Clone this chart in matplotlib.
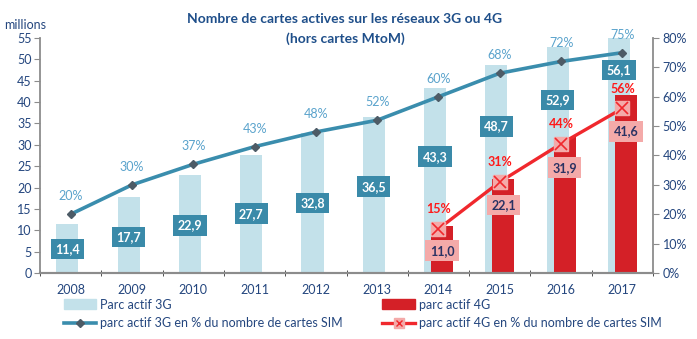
import numpy as np
import matplotlib
matplotlib.use('Agg')
import matplotlib.pyplot as plt
from matplotlib.lines import Line2D
from matplotlib.patches import Patch

plt.rcParams['font.family'] = ['Lato', 'DejaVu Sans']

years = ['2008', '2009', '2010', '2011', '2012', '2013', '2014', '2015', '2016', '2017']
parc_3g = [11.4, 17.7, 22.9, 27.7, 32.8, 36.5, 43.3, 48.7, 52.9, 56.1]
pct_3g = [20, 30, 37, 43, 48, 52, 60, 68, 72, 75]
years_4g = ['2014', '2015', '2016', '2017']
parc_4g = [11.0, 22.1, 31.9, 41.6]
pct_4g = [15, 31, 44, 56]

# where the value boxes sit (left axis units), placed by hand in the original
box_y_3g = [5.6, 8.4, 11.1, 13.9, 16.4, 20.2, 27.2, 34.3, 40.5, 47.5]
box_y_4g = [5.2, 15.9, 24.6, 33.1]

c_bar3 = '#c3e1ea'
c_line3 = '#3a8dad'
c_box3 = '#3a8aa9'
c_bar4 = '#d42027'
c_line4 = '#f0282d'
c_box4 = '#f4aaa9'
c_navy = '#24467e'
c_grey = '#8c8c8c'

fig = plt.figure(figsize=(6.97, 3.39), dpi=100)
ax = fig.add_axes([0.0574, 0.1947, 0.8795, 0.6933])
ax2 = ax.twinx()

x = np.arange(len(years))
x4 = np.array([years.index(y) for y in years_4g])
w = 0.36

ax.bar(x - 0.055, parc_3g, w, color=c_bar3, zorder=1)
ax.bar(x4 + 0.06, parc_4g, w, color=c_bar4, zorder=2)

for xi, v, yb in zip(x, parc_3g, box_y_3g):
    ax.text(xi - 0.055, yb, f'{v:.1f}'.replace('.', ','), ha='center', va='center',
            color='white', fontsize=9, fontweight='bold', zorder=5,
            bbox=dict(boxstyle='square,pad=0.35', fc=c_box3, ec='none'))
for xi, v, yb in zip(x4, parc_4g, box_y_4g):
    ax.text(xi + 0.06, yb, f'{v:.1f}'.replace('.', ','), ha='center', va='center',
            color='#2a3263', fontsize=9, fontweight='bold', zorder=5,
            bbox=dict(boxstyle='square,pad=0.35', fc=c_box4, ec='none'))

ax.set_xlim(-0.5, len(years) - 0.5)
ax.set_ylim(0, 55)
ax.set_yticks(np.arange(0, 56, 5))
ax.set_xticks(x)
ax.set_xticklabels(years)
ax.set_xticks(np.arange(-0.5, len(years), 1), minor=True)
ax.tick_params(axis='x', which='major', length=0, pad=8, colors=c_navy, labelsize=9)
ax.tick_params(axis='x', which='minor', length=4, direction='inout', color='#333333')
ax.tick_params(axis='y', length=4, direction='out', colors=c_navy, labelsize=9, pad=2)
ax.tick_params(axis='y', color=c_grey)

# percentage lines on the right axis
ax2.plot(x, pct_3g, color=c_line3, lw=2.6, zorder=3)
ax2.plot(x, pct_3g, 'D', color='#4d5b66', ms=4.5, zorder=4)
ax2.plot(x4, pct_4g, color=c_line4, lw=2.4, zorder=3)
ax2.plot(x4, pct_4g, 's', mfc=c_box4, mec=c_box4, ms=10, zorder=4)
ax2.plot(x4, pct_4g, 'x', color=c_line4, ms=8, mew=1.2, zorder=5)

for xi, p in zip(x, pct_3g):
    ax2.annotate(f'{p}%', (xi, p), xytext=(0, 13), textcoords='offset points',
                 ha='center', va='center', color='#5aa3cc', fontsize=9)
for xi, p in zip(x4, pct_4g):
    ax2.annotate(f'{p}%', (xi, p), xytext=(0, 14), textcoords='offset points',
                 ha='center', va='center', color='#ff1a1a', fontsize=9, fontweight='bold')

ax2.set_ylim(0, 80)
ax2.set_yticks(np.arange(0, 81, 10))
ax2.set_yticklabels([f'{t}%' for t in range(0, 81, 10)])
ax2.tick_params(axis='y', length=4, direction='out', colors=c_navy, labelsize=9, pad=3)
ax2.tick_params(axis='y', color=c_grey)

for a in (ax, ax2):
    a.spines['top'].set_visible(False)
    a.spines['left'].set_color(c_grey)
    a.spines['right'].set_color(c_grey)
    a.spines['bottom'].set_color(c_grey)
    a.spines['left'].set_linewidth(1.3)
    a.spines['right'].set_linewidth(1.3)
    a.spines['bottom'].set_linewidth(1.5)
ax2.spines['left'].set_visible(False)
ax.spines['right'].set_visible(False)

fig.text(0.495, 0.945, 'Nombre de cartes actives sur les réseaux 3G ou 4G',
         ha='center', va='center', color='#1f4f8a', fontsize=10, fontweight='bold')
fig.text(0.495, 0.885, '(hors cartes MtoM)',
         ha='center', va='center', color='#1f4f8a', fontsize=10, fontweight='bold')
fig.text(0.036, 0.925, 'millions', ha='center', va='center', color=c_navy, fontsize=9)

handles = [
    Patch(color=c_bar3),
    (Line2D([], [], color=c_line3, lw=2.6),
     Line2D([], [], marker='D', ls='none', color='#4d5b66', ms=4)),
    Patch(color=c_bar4),
    (Line2D([], [], color=c_line4, lw=2.4),
     Line2D([], [], marker='s', ls='none', mfc=c_box4, mec=c_box4, ms=7),
     Line2D([], [], marker='x', ls='none', color=c_line4, ms=5, mew=1)),
]
labels = ['Parc actif 3G', 'parc actif 3G en % du nombre de cartes SIM',
          'parc actif 4G', 'parc actif 4G en % du nombre de cartes SIM']
fig.legend(handles, labels, ncol=2, loc='lower left', bbox_to_anchor=(0.075, -0.005),
           frameon=False, fontsize=9, handlelength=2.6, handleheight=0.9,
           columnspacing=3.2, handletextpad=0.3, labelspacing=0.55,
           labelcolor=c_navy)

fig.savefig('out.png', dpi=100)
